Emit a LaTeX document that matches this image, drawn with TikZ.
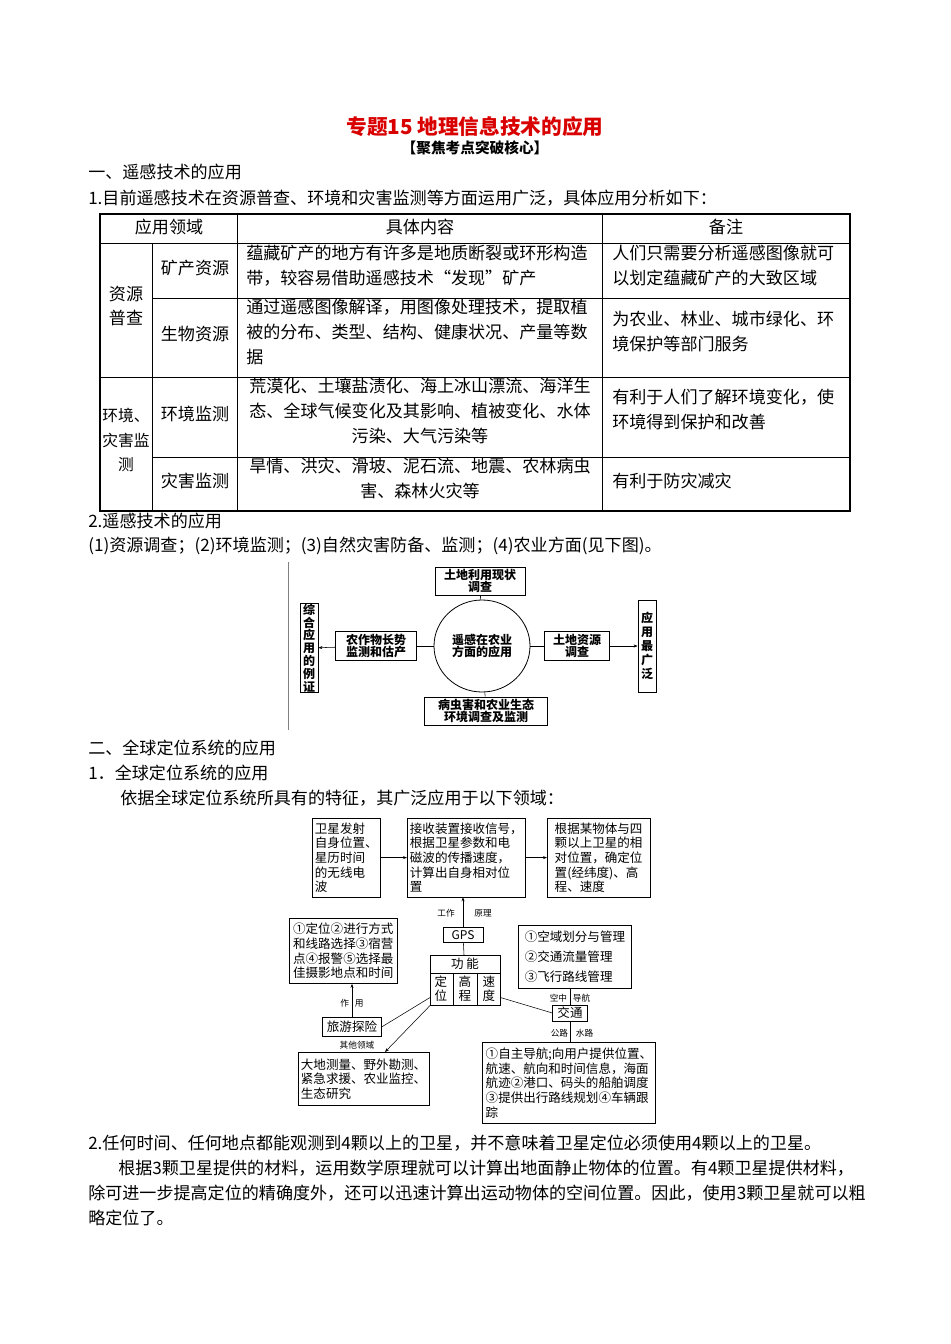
\documentclass[tikz,border=0pt]{standalone}
\usepackage{fontspec}
\setmainfont{Noto Sans CJK SC}
\XeTeXlinebreaklocale "zh"
\XeTeXlinebreakskip=0pt plus 1pt
\usetikzlibrary{positioning,calc,arrows.meta,shapes.geometric}
\tikzset{
  body/.style={anchor=west, inner sep=0pt, font=\fontsize{12.8}{14}\selectfont},
  cell/.style={inner sep=0pt, align=left, font=\fontsize{12.8}{18.5}\selectfont},
  abox/.style={draw, semithick, inner sep=1pt, align=center, font=\fontsize{9}{9.5}\selectfont\bfseries},
  gbox/.style={draw, inner sep=2pt, align=left, font=\fontsize{9.4}{11}\selectfont},
  tag/.style={inner sep=0pt, font=\fontsize{6.5}{7}\selectfont},
}
\begin{document}
\begin{tikzpicture}[x=0.75pt,y=-0.75pt]
    \useasboundingbox[fill=white] (0,0) rectangle (950,1344);

    % Title
    \node[inner sep=0pt, text=red!85!black, font=\fontsize{15.5}{16}\selectfont\bfseries] (title) at (475,127) {专题15 地理信息技术的应用};
    \node[inner sep=0pt, font=\fontsize{11}{12}\selectfont\bfseries] (sub) at (475,148) {【聚焦考点突破核心】};

    % Section one
    \node[body] (s1) at (88,172) {一、遥感技术的应用};
    \node[body] (p1) at (88,198) {1.目前遥感技术在资源普查、环境和灾害监测等方面运用广泛，具体应用分析如下：};

    % Table grid
    \draw[thick] (100,214) rectangle (850,511);
    \draw (100,243) -- (850,243);
    \draw (152,298) -- (850,298);
    \draw (100,377) -- (850,377);
    \draw (152,457) -- (850,457);
    \draw (152,243) -- (152,511);
    \draw (237,214) -- (237,511);
    \draw (602,214) -- (602,511);

    % Table texts
    \node[cell] (h1) at (169,227) {应用领域};
    \node[cell] (h2) at (420,227) {具体内容};
    \node[cell] (h3) at (726,227) {备注};
    \node[cell, align=center] (r1) at (126,306) {资源\\普查};
    \node[cell] (r1a) at (195,268) {矿产资源};
    \node[cell] (r1b) at (195,334) {生物资源};
    \node[cell, align=center, font=\fontsize{11.8}{18.5}\selectfont] (r2) at (126,440) {环境、\\灾害监\\测};
    \node[cell] (r2a) at (195,414) {环境监测};
    \node[cell] (r2b) at (195,481) {灾害监测};
    \node[cell, anchor=north west] (c1) at (246,245) {蕴藏矿产的地方有许多是地质断裂或环形构造\\带，较容易借助遥感技术“发现”矿产};
    \node[cell, anchor=north west] (c2) at (246,299) {通过遥感图像解译，用图像处理技术，提取植\\被的分布、类型、结构、健康状况、产量等数\\据};
    \node[cell, align=center, anchor=north] (c3) at (420,378) {荒漠化、土壤盐渍化、海上冰山漂流、海洋生\\态、全球气候变化及其影响、植被变化、水体\\污染、大气污染等};
    \node[cell, align=center, anchor=north] (c4) at (420,458) {旱情、洪灾、滑坡、泥石流、地震、农林病虫\\害、森林火灾等};
    \node[cell, anchor=north west] (n1) at (612,245) {人们只需要分析遥感图像就可\\以划定蕴藏矿产的大致区域};
    \node[cell, anchor=north west] (n2) at (612,311) {为农业、林业、城市绿化、环\\境保护等部门服务};
    \node[cell, anchor=north west] (n3) at (612,389) {有利于人们了解环境变化，使\\环境得到保护和改善};
    \node[cell, anchor=west] (n4) at (612,481) {有利于防灾减灾};

    \node[body] (p2) at (88,521) {2.遥感技术的应用};
    \node[body] (p3) at (88,546) {(1)资源调查；(2)环境监测；(3)自然灾害防备、监测；(4)农业方面(见下图)。};

    % Remote sensing in agriculture
    \draw[gray] (288,562) -- (288,730);
    \node[draw, semithick, ellipse, minimum width=72pt, minimum height=69pt, inner sep=0pt,
          align=center, font=\fontsize{9}{9.5}\selectfont\bfseries] (core) at (482,646) {遥感在农业\\方面的应用};
    \node[abox, minimum width=67.5pt, minimum height=21pt] (land) at (480,581) {土地利用现状\\调查};
    \node[abox, minimum width=61pt, minimum height=22pt] (crop) at (376,646) {农作物长势\\监测和估产};
    \node[abox, minimum width=49pt, minimum height=22pt] (soil) at (577,646) {土地资源\\调查};
    \node[abox, minimum width=92pt, minimum height=21pt] (pest) at (486,711) {病虫害和农业生态\\环境调查及监测};
    \node[abox, minimum width=13.5pt, minimum height=67pt, inner sep=0.5pt, font=\fontsize{9}{9.6}\selectfont\bfseries] (eg) at (309,648) {综\\合\\应\\用\\的\\例\\证};
    \node[abox, minimum width=13.5pt, minimum height=69pt, inner sep=0.5pt, font=\fontsize{9}{10.5}\selectfont\bfseries] (wide) at (647,646) {应\\用\\最\\广\\泛};
    \draw (core) -- (land);
    \draw (core) -- (pest);
    \draw (core) -- (crop);
    \draw (core) -- (soil);
    \draw[-{Stealth[length=3pt]}] (crop) -- (eg);
    \draw[-{Stealth[length=3pt]}] (soil) -- (wide);

    % Section two
    \node[body] (s2) at (88,748) {二、全球定位系统的应用};
    \node[body] (p4) at (88,773) {1．全球定位系统的应用};
    \node[body] (p5) at (120,798) {依据全球定位系统所具有的特征，其广泛应用于以下领域：};

    % GPS diagram
    \node[gbox, anchor=north west, minimum width=45pt, minimum height=59pt] (sat) at (312,818) {卫星发射\\自身位置、\\星历时间\\的无线电\\波};
    \node[gbox, anchor=north west, minimum width=86pt, minimum height=59pt] (recv) at (407,818) {接收装置接收信号，\\根据卫星参数和电\\磁波的传播速度，\\计算出自身相对位\\置};
    \node[gbox, anchor=north west, minimum width=77pt, minimum height=59pt] (pos) at (547,818) {根据某物体与四\\颗以上卫星的相\\对位置，确定位\\置(经纬度)、高\\程、速度};
    \node[draw, inner sep=1pt, minimum width=30pt, minimum height=11pt, font=\fontsize{9}{9}\selectfont] (gps) at (463,935) {GPS};
    \node[draw, anchor=north west, minimum width=52.5pt, minimum height=37.5pt, inner sep=0pt] (func) at (430,955) {};
    \node[font=\fontsize{9.4}{9}\selectfont, inner sep=0pt] (functx) at (465,964) {功\ 能};
    \draw (430,973) -- (500,973);
    \draw (453,973) -- (453,1005);
    \draw (477,973) -- (477,1005);
    \node[align=center, font=\fontsize{9.4}{10.5}\selectfont, inner sep=0pt] (f1) at (441,989) {定\\位};
    \node[align=center, font=\fontsize{9.4}{10.5}\selectfont, inner sep=0pt] (f2) at (465,989) {高\\程};
    \node[align=center, font=\fontsize{9.4}{10.5}\selectfont, inner sep=0pt] (f3) at (489,989) {速\\度};
    \node[gbox, anchor=north west, minimum width=81pt, minimum height=49pt] (tour) at (289,918) {①定位②进行方式\\和线路选择③宿营\\点④报警⑤选择最\\佳摄影地点和时间};
    \node[gbox, anchor=north west, minimum width=85pt, minimum height=47pt, font=\fontsize{9.4}{15}\selectfont] (air) at (518,925) {①空域划分与管理\\②交通流量管理\\③飞行路线管理};
    \node[draw, inner sep=1pt, minimum width=26pt, minimum height=12pt, font=\fontsize{9.4}{9}\selectfont] (traffic) at (570,1013) {交通};
    \node[draw, inner sep=1pt, minimum width=44pt, minimum height=14pt, font=\fontsize{9.4}{9}\selectfont] (travel) at (352,1027) {旅游探险};
    \node[gbox, anchor=north west, minimum width=96pt, minimum height=40pt] (other) at (298,1052) {大地测量、野外勘测、\\紧急求援、农业监控、\\生态研究};
    \node[gbox, anchor=north west, minimum width=130pt, minimum height=61pt] (nav) at (482,1042) {①自主导航;向用户提供位置、\\航速、航向和时间信息，海面\\航迹②港口、码头的船舶调度\\③提供出行路线规划④车辆跟\\踪};

    \draw[-{Stealth[length=3pt]}] (sat) -- (recv);
    \draw[-{Stealth[length=3pt]}] (recv) -- (pos);
    \draw[-{Stealth[length=3pt]}] (gps.north) -- (gps.north |- recv.south);
    \draw (gps) -- (func);
    \draw[-{Stealth[length=3pt]}] (travel.north) -- (travel.north |- tour.south);
    \draw ($(func.south west)+(0,-8)$) -- (travel.east);
    \draw[-{Stealth[length=3pt]}] (func.south west) -- (385,1052);
    \draw ($(func.south east)+(0,-8)$) -- (traffic.west);
    \draw (traffic.north) -- (traffic.north |- air.south);
    \draw (traffic.south) -- (traffic.south |- nav.north);
    \node[tag] (w1) at (446,913) {工作};
    \node[tag] (w2) at (483,913) {原理};
    \node[tag] (w3) at (352,1003) {作\ \ \ 用};
    \node[tag] (w4) at (357,1045) {其他领域};
    \node[tag] (w5) at (570,998) {空中\ \ \ 导航};
    \node[tag] (w6) at (572,1033) {公路\ \ \ \ 水路};

    % Closing text
    \node[body] (p6) at (88,1143) {2.任何时间、任何地点都能观测到4颗以上的卫星，并不意味着卫星定位必须使用4颗以上的卫星。};
    \node[body] (p7) at (118,1168) {根据3颗卫星提供的材料，运用数学原理就可以计算出地面静止物体的位置。有4颗卫星提供材料，};
    \node[body] (p8) at (88,1193) {除可进一步提高定位的精确度外，还可以迅速计算出运动物体的空间位置。因此，使用3颗卫星就可以粗};
    \node[body] (p9) at (88,1218) {略定位了。};
\end{tikzpicture}
\end{document}
